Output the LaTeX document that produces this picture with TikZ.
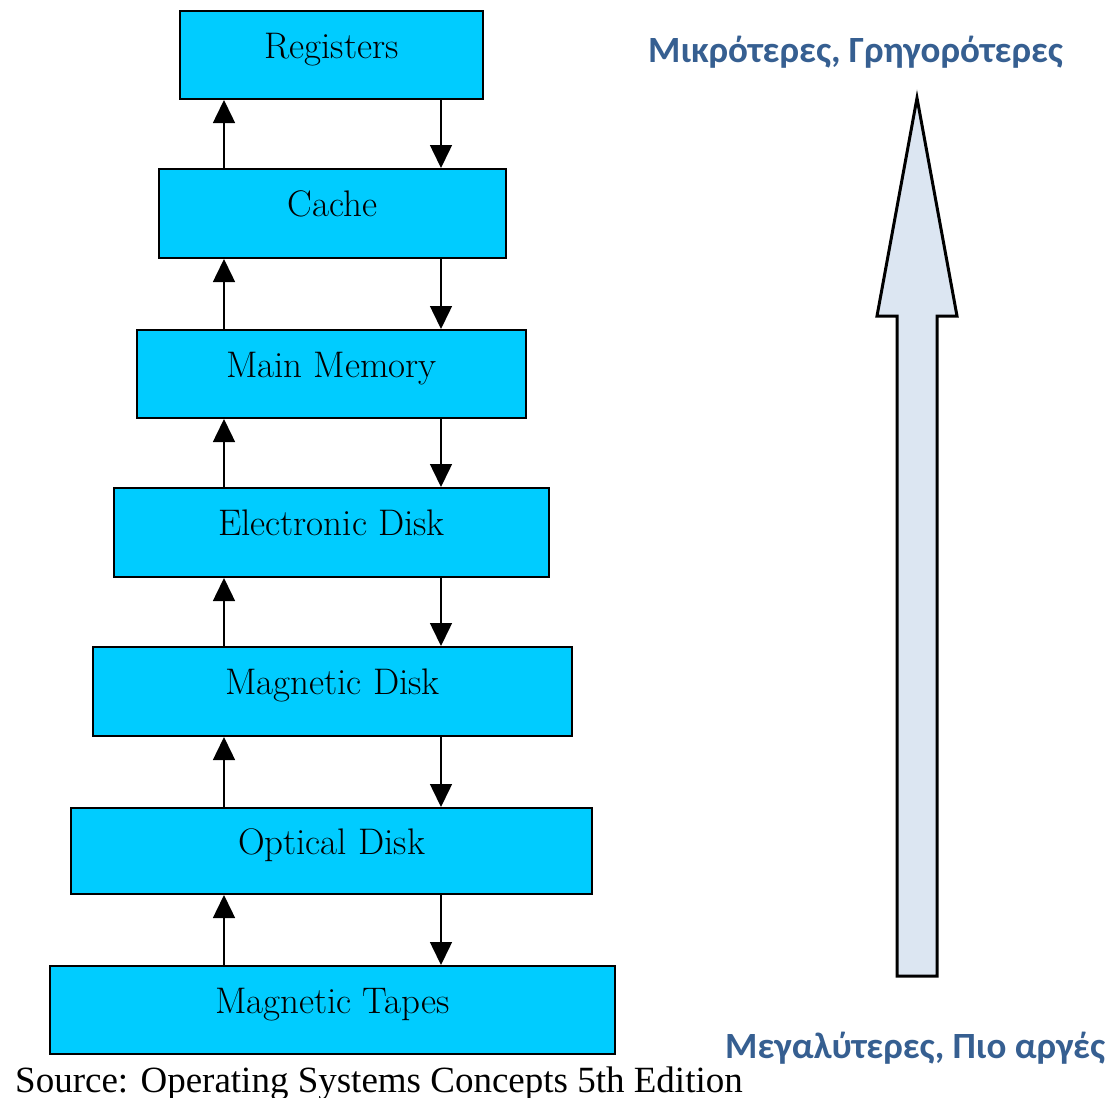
\documentclass[tikz,border=0pt]{standalone}
\usepackage{fontspec}
\newfontfamily\srcfont{Liberation Serif}
\newfontfamily\grfont{Carlito}
\usetikzlibrary{arrows.meta}
\definecolor{boxcyan}{HTML}{00CCFF}
\definecolor{grblue}{HTML}{365F91}
\definecolor{arrfill}{HTML}{DCE6F2}
\begin{document}
\begin{tikzpicture}[x=1pt,y=-1pt,
  level/.style={draw=black,line width=2pt,fill=boxcyan,rectangle,inner sep=0pt,
    text height=21pt,text depth=15pt,font=\fontsize{37}{44}\selectfont},
  flow/.style={line width=1.5pt,-{Triangle[width=22pt,length=23pt]}},
  greek/.style={font=\grfont\bfseries\fontsize{37}{44}\selectfont,text=grblue,inner sep=0pt},
  bigarrow/.style={draw=black,line width=3pt,fill=arrfill,line join=miter}]
\useasboundingbox (0,0) rectangle (1117,1098);
% levels
\node[level,minimum width=303pt,minimum height=88pt] (reg)   at (331.5,55)   {Registers};
\node[level,minimum width=347pt,minimum height=89pt] (cache) at (332.5,213.5) {Cache};
\node[level,minimum width=389pt,minimum height=88pt] (mem)   at (331.5,374)  {Main Memory};
\node[level,minimum width=435pt,minimum height=89pt] (edisk) at (331.5,532.5) {Electronic Disk};
\node[level,minimum width=479pt,minimum height=89pt] (mdisk) at (332.5,691.5) {Magnetic Disk};
\node[level,minimum width=521pt,minimum height=86pt] (odisk) at (331.5,851)  {Optical Disk};
\node[level,minimum width=565pt,minimum height=88pt] (tapes) at (332.5,1010) {Magnetic Tapes};
% arrow columns
\coordinate (ux) at (224,0);
\coordinate (dx) at (441,0);
\foreach \up/\lo in {reg/cache,cache/mem,mem/edisk,edisk/mdisk,mdisk/odisk,odisk/tapes}{
  \draw[flow] (\lo.north -| ux) -- (\up.south -| ux);
  \draw[flow] (\up.south -| dx) -- (\lo.north -| dx);
}
% big arrow
\draw[bigarrow] (917,98) -- (957,316) -- (937,316) -- (937,976) -- (897,976)
  -- (897,316) -- (877,316) -- cycle;
% labels
\node[greek,anchor=base west] (fast) at (648,62) {Μικρότερες, Γρηγορότερες};
\node[greek,anchor=base west] (slow) at (725,1058) {Μεγαλύτερες, Πιο αργές};
\node[font=\srcfont\fontsize{37}{44}\selectfont,anchor=base west,inner sep=0pt] (src)
  at (15,1092) {Source: Operating Systems Concepts 5th Edition};
\end{tikzpicture}
\end{document}
